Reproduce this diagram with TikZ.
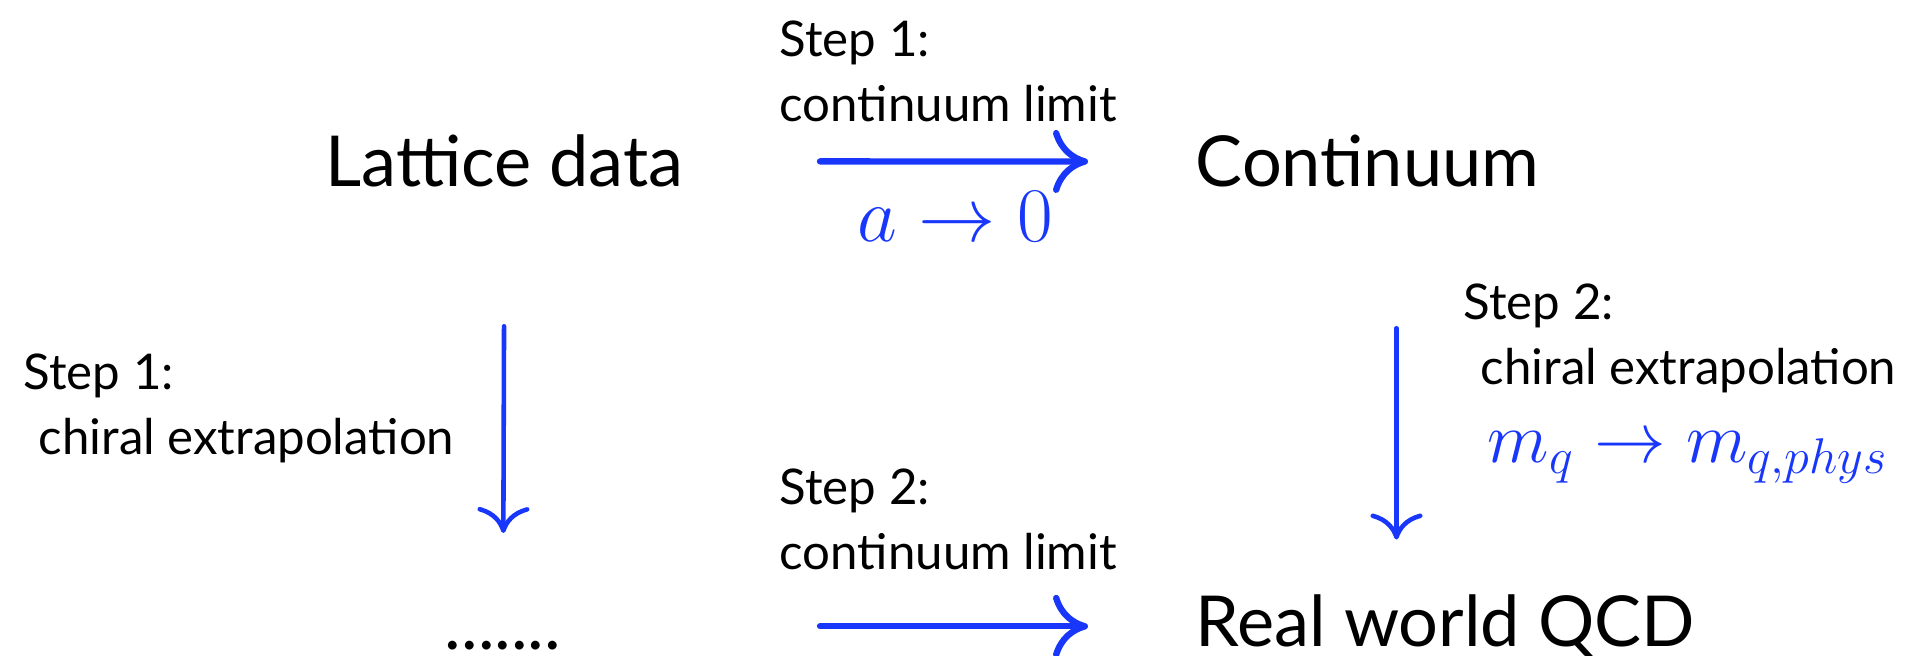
\RequirePackage{fix-cm}
\documentclass[tikz,border=0pt]{standalone}
\usepackage{amsmath}
\usepackage{fontspec}
\setmainfont{Lato}
\usetikzlibrary{arrows.meta}
\definecolor{stepblue}{RGB}{25,55,250}

\begin{document}
\begin{tikzpicture}[every node/.style={inner sep=0pt},
  bigtext/.style={font=\fontsize{20}{24}\selectfont},
  steptext/.style={font=\fontsize{14}{18.5}\selectfont, align=left, anchor=north west},
  hbig/.style={stepblue, line width=1.8pt, line cap=round, -{To[length=3.5mm,width=6.3mm]}},
  vthin/.style={stepblue, line width=1.3pt, line cap=round, -{To[length=2.6mm,width=5.2mm]}}]
  \useasboundingbox (0,0) rectangle (19.30,-6.56);
  \node[bigtext, anchor=base] (lattice) at (5.045,-1.87) {Lattice data};
  \node[bigtext, anchor=base west] (continuum) at (11.95,-1.87) {Continuum};
  \node[bigtext, anchor=base] (dots) at (5.03,-6.50) {.......};
  \node[bigtext, anchor=base west] (qcd) at (11.95,-6.47) {Real world QCD};
  \node[steptext] (lim1) at (7.79,-0.20) {Step 1:\\continuum limit};
  \node[steptext] (lim2) at (7.79,-4.68) {Step 2:\\continuum limit};
  \node[steptext] (chi1) at (0.23,-3.53) {Step 1:\\\hspace*{1.5mm}chiral extrapolation};
  \node[steptext] (chi2) at (14.63,-2.83) {Step 2:\\\hspace*{1.7mm}chiral extrapolation};
  \node[anchor=base, text=stepblue, font=\fontsize{22}{26}\selectfont] (azero) at (9.55,-2.42) {$a\to 0$};
  \node[anchor=base, text=stepblue, font=\fontsize{20.4}{24}\selectfont] (mphys) at (16.88,-4.63) {$m_q\to m_{q,phys}$};
  \draw[hbig, shorten <=4.1mm, shorten >=1.07cm] (lattice.east -| lim1.west) -- (continuum.west);
  \draw[hbig, shorten <=4.1mm, shorten >=1.07cm] (qcd.west -| lim2.west) -- (qcd.west);
  \draw[vthin, shorten <=1.38cm, shorten >=1.08cm] (lattice.south) -- (dots.north);
  \draw[vthin, shorten <=1.40cm, shorten >=0.55cm] ([xshift=2.9mm]continuum.south) -- ([xshift=2.9mm]continuum.south |- qcd.north);
\end{tikzpicture}
\end{document}
